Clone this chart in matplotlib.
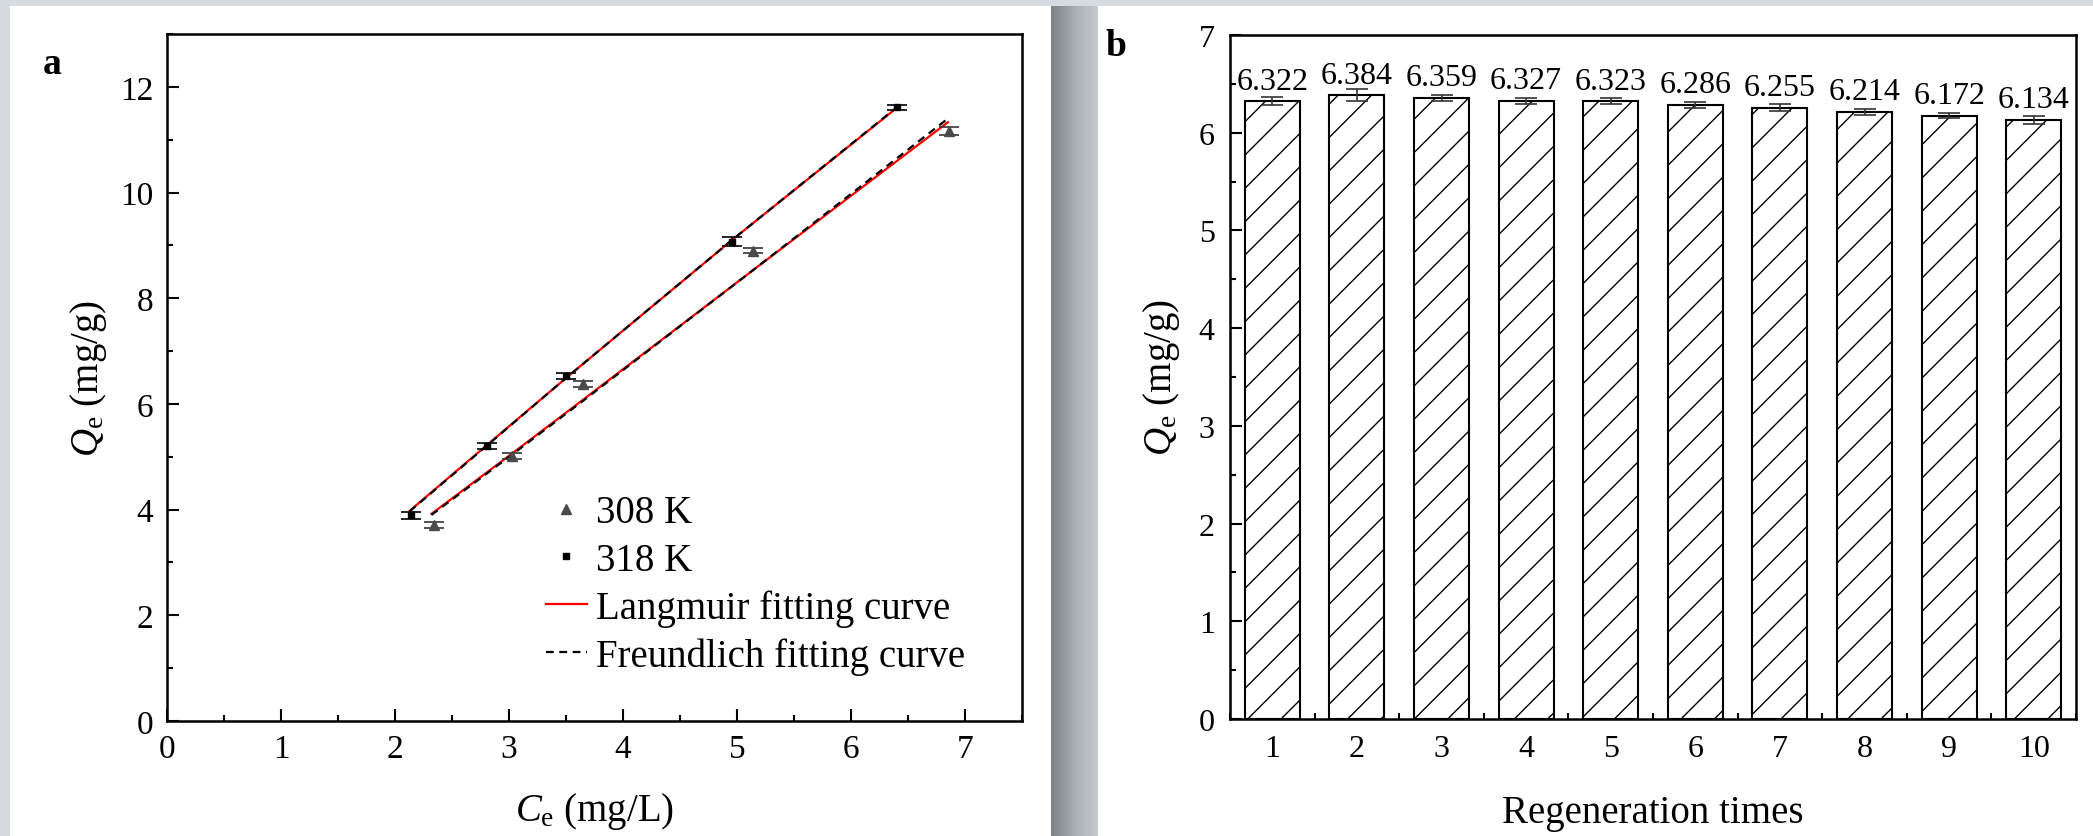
import numpy as np
import matplotlib
matplotlib.use('Agg')
import matplotlib.pyplot as plt
from matplotlib.patches import Rectangle
from matplotlib.colors import LinearSegmentedColormap
from matplotlib.ticker import MultipleLocator

plt.rcParams['font.family'] = ['Liberation Serif', 'DejaVu Serif']
plt.rcParams['mathtext.fontset'] = 'custom'
plt.rcParams['mathtext.rm'] = 'Liberation Serif'
plt.rcParams['mathtext.it'] = 'Liberation Serif:italic'
plt.rcParams['hatch.linewidth'] = 1.0

# --- panel a: isotherm data ---
ce_318 = [2.14, 2.81, 3.50, 4.96, 6.40]
qe_318 = [3.89, 5.20, 6.53, 9.07, 11.61]
err_318 = [0.06, 0.06, 0.06, 0.08, 0.05]

ce_308 = [2.34, 3.03, 3.65, 5.14, 6.86]
qe_308 = [3.71, 5.01, 6.38, 8.90, 11.16]
err_308 = [0.05, 0.06, 0.06, 0.05, 0.08]

# fitted curves
fit_x_318 = [2.13, 2.80, 3.50, 4.95, 6.40]
lang_318 = [3.98, 5.21, 6.49, 9.09, 11.60]
freu_318 = [3.97, 5.20, 6.49, 9.09, 11.61]

fit_x_308 = [2.32, 3.02, 3.65, 5.14, 6.85]
lang_308 = [3.92, 5.05, 6.08, 8.53, 11.33]
freu_308 = [3.90, 5.03, 6.06, 8.53, 11.40]

# --- panel b: regeneration ---
cycles = [1, 2, 3, 4, 5, 6, 7, 8, 9, 10]
qe_regen = [6.322, 6.384, 6.359, 6.327, 6.323, 6.286, 6.255, 6.214, 6.172, 6.134]
err_regen = [0.04, 0.06, 0.03, 0.03, 0.03, 0.03, 0.035, 0.03, 0.025, 0.04]

W, H = 2093, 837
fig = plt.figure(figsize=(W / 100, H / 100), dpi=100, facecolor='#d6dbe0')

# white panels and the shaded gap between them
fig.patches.append(Rectangle((10 / W, 0), (1051 - 10) / W, (H - 7) / H,
                             transform=fig.transFigure, facecolor='white',
                             edgecolor='none', zorder=-10))
fig.patches.append(Rectangle((1098 / W, 0), (W - 1098) / W, (H - 7) / H,
                             transform=fig.transFigure, facecolor='white',
                             edgecolor='none', zorder=-10))
gap = fig.add_axes([1051 / W, 0, 47 / W, (H - 7) / H], zorder=-5)
cmap = LinearSegmentedColormap.from_list('gap', ['#7e8287', '#a9aeb3', '#c6cbd0'])
gap.imshow(np.linspace(0, 1, 100)[None, :], aspect='auto', cmap=cmap)
gap.axis('off')


def style_axes(ax, size):
    for s in ax.spines.values():
        s.set_linewidth(1.8)
    ax.tick_params(which='both', direction='in', top=False, right=False,
                   width=1.5, labelsize=size)
    ax.tick_params(which='major', length=8.5)
    ax.tick_params(which='minor', length=4.5)


# ---------------- panel a ----------------
ax1 = fig.add_axes([167 / W, (H - 722) / H, (1022 - 167) / W, (722 - 35) / H])
ax1.plot(fit_x_318, lang_318, color='#ff0000', lw=1.6, zorder=2)
ax1.plot(fit_x_318, freu_318, color='black', lw=1.6, dashes=(3.5, 2.5), zorder=3)
ax1.plot(fit_x_308, lang_308, color='#ff0000', lw=1.6, zorder=2)
ax1.plot(fit_x_308, freu_308, color='black', lw=1.6, dashes=(3.5, 2.5), zorder=3)
ax1.errorbar(ce_308, qe_308, yerr=err_308, fmt='^', ms=6.5, color='#4a4a4a',
             ecolor='#333333', elinewidth=1.2, capsize=7, capthick=1.2, zorder=4)
ax1.errorbar(ce_318, qe_318, yerr=err_318, fmt='s', ms=5, color='black',
             ecolor='black', elinewidth=1.2, capsize=7, capthick=1.2, zorder=4)

# legend proxies
h1, = ax1.plot([], [], '^', ms=6.5, color='#4a4a4a', label='308 K')
h2, = ax1.plot([], [], 's', ms=5, color='black', label='318 K')
h3, = ax1.plot([], [], color='#ff0000', lw=1.6, label='Langmuir fitting curve')
h4, = ax1.plot([], [], color='black', lw=1.6, dashes=(3.5, 2.5),
               label='Freundlich fitting curve')
ax1.legend(handles=[h1, h2, h3, h4], loc='upper left',
           bbox_to_anchor=(0.443, 0.33), frameon=False, fontsize=28,
           borderpad=0, borderaxespad=0, handlelength=1.05,
           handletextpad=0.25, labelspacing=0.27)

ax1.set_xlim(0, 7.5)
ax1.set_ylim(0, 13)
ax1.xaxis.set_major_locator(MultipleLocator(1))
ax1.xaxis.set_minor_locator(MultipleLocator(0.5))
ax1.yaxis.set_major_locator(MultipleLocator(2))
ax1.yaxis.set_minor_locator(MultipleLocator(1))
style_axes(ax1, 24)
ax1.tick_params(which='major', axis='x', pad=9)
ax1.tick_params(which='major', axis='y', pad=10)
ax1.set_xlabel(r'$C_{\mathrm{e}}$ (mg/L)', fontsize=28, labelpad=19)
ax1.set_ylabel(r'$Q_{\mathrm{e}}$ (mg/g)', fontsize=28, labelpad=8)

fig.text(52 / W, 1 - 65 / H, 'a', fontsize=27, fontweight='bold',
         ha='center', va='center')

# ---------------- panel b ----------------
ax2 = fig.add_axes([1230 / W, (H - 720) / H, (2076 - 1230) / W, (720 - 36) / H])
ax2.bar(cycles, qe_regen, width=0.65, facecolor='white', edgecolor='black',
        linewidth=1.5, hatch='/', zorder=2)
ax2.errorbar(cycles, qe_regen, yerr=err_regen, fmt='none', ecolor='#333333',
             elinewidth=1.2, capsize=8, capthick=1.2, zorder=3)
for x, v in zip(cycles, qe_regen):
    ax2.annotate(f'{v:.3f}', (x, v), xytext=(0, 9), textcoords='offset points',
                 ha='center', va='baseline', fontsize=23)

ax2.set_xlim(0.5, 10.5)
ax2.set_ylim(0, 7)
ax2.set_xticks(cycles)
ax2.xaxis.set_minor_locator(MultipleLocator(0.5))
ax2.yaxis.set_major_locator(MultipleLocator(1))
ax2.yaxis.set_minor_locator(MultipleLocator(0.5))
style_axes(ax2, 23)
ax2.tick_params(which='major', axis='x', pad=11)
ax2.tick_params(which='major', axis='y', pad=11)
ax2.set_xlabel('Regeneration times', fontsize=28, labelpad=22)
ax2.set_ylabel(r'$Q_{\mathrm{e}}$ (mg/g)', fontsize=28, labelpad=12)

fig.text(1116 / W, 1 - 46 / H, 'b', fontsize=27, fontweight='bold',
         ha='center', va='center')

fig.savefig('out.png', dpi=100, facecolor=fig.get_facecolor())
